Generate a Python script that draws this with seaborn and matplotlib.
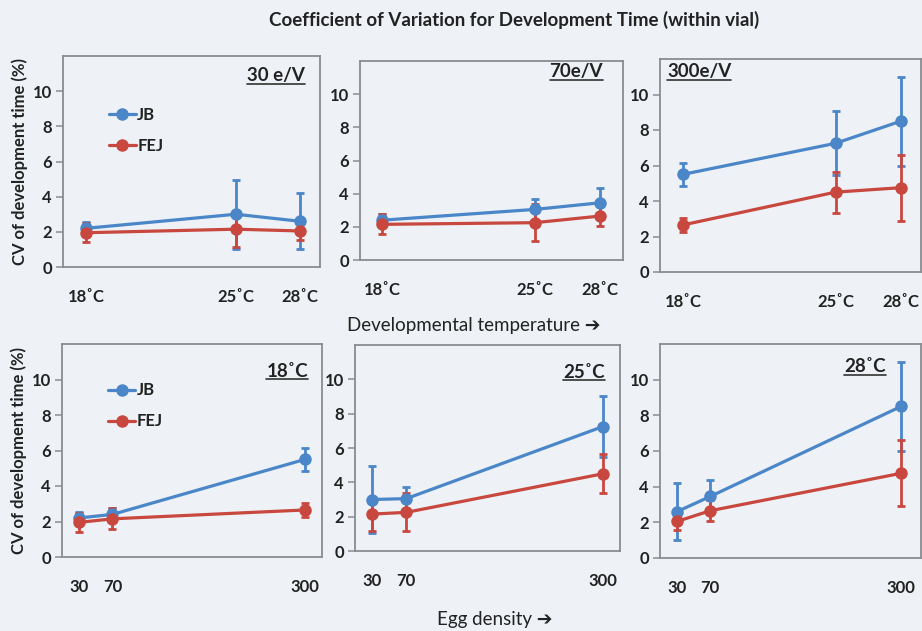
import numpy as np
import pandas as pd
import matplotlib
matplotlib.use("Agg")
import matplotlib.pyplot as plt
from matplotlib.lines import Line2D
import seaborn as sns

# ---- data: CV of development time (%) within vial, mean and error ----
temperatures = [18, 25, 28]
temp_labels = ["18˚C", "25˚C", "28˚C"]
densities = [30, 70, 300]
density_labels = ["30", "70", "300"]
strains = ["JB", "FEJ"]

# rows follow temperatures (18, 25, 28)
jb_mean_30 = [2.2, 3.0, 2.6]
jb_err_30 = [0.35, 1.95, 1.6]
jb_mean_70 = [2.4, 3.05, 3.45]
jb_err_70 = [0.35, 0.65, 0.9]
jb_mean_300 = [5.5, 7.25, 8.5]
jb_err_300 = [0.65, 1.8, 2.5]

fej_mean_30 = [1.95, 2.15, 2.05]
fej_err_30 = [0.55, 1.0, 0.5]
fej_mean_70 = [2.15, 2.25, 2.65]
fej_err_70 = [0.6, 1.1, 0.6]
fej_mean_300 = [2.65, 4.5, 4.75]
fej_err_300 = [0.4, 1.15, 1.85]

jb_mean = {30: jb_mean_30, 70: jb_mean_70, 300: jb_mean_300}
jb_err = {30: jb_err_30, 70: jb_err_70, 300: jb_err_300}
fej_mean = {30: fej_mean_30, 70: fej_mean_70, 300: fej_mean_300}
fej_err = {30: fej_err_30, 70: fej_err_70, 300: fej_err_300}

rows = []
for d in densities:
    for i, t in enumerate(temperatures):
        rows.append(dict(density=d, temp=t, strain="JB", cv=jb_mean[d][i], err=jb_err[d][i]))
        rows.append(dict(density=d, temp=t, strain="FEJ", cv=fej_mean[d][i], err=fej_err[d][i]))
df = pd.DataFrame(rows)

# ---- style ----
BG = "#eef2f6"
BLUE = "#4a86c8"
RED = "#c8473e"
palette = {"JB": BLUE, "FEJ": RED}
FRAME = "#8a8d90"
INK = "#222222"

sns.set_theme(style="white")
plt.rcParams["font.family"] = ["Lato", "DejaVu Sans"]
plt.rcParams["axes.facecolor"] = BG
plt.rcParams["figure.facecolor"] = BG

fig = plt.figure(figsize=(9.22, 6.31), dpi=100)

W, H = 922.0, 631.0


def px_axes(left, top, right, bottom):
    return fig.add_axes([left / W, 1 - bottom / H, (right - left) / W, (bottom - top) / H])


top_boxes = [(63, 56, 320, 267), (360, 61, 623, 260), (660, 59, 921, 272)]
bot_boxes = [(62, 344, 322, 557), (355, 345, 620, 551), (660, 344, 921, 558)]
top_xlims = [(16.93, 28.93), (16.99, 29.05), (16.95, 28.92)]
bot_xlims = [(9.7, 320.3), (10.1, 319.9), (9.5, 324.0)]

top_titles = ["30 e/V", "70e/V", "300e/V"]
top_title_pos = [(305, 76, "right"), (603, 72, "right"), (667, 72, "left")]
bot_titles = ["18˚C", "25˚C", "28˚C"]
bot_title_pos = [(308, 371, "right"), (605, 372, "right"), (886, 367, "right")]


def style_axes(ax, xlim, xticks, xlabels):
    ax.set_xlim(*xlim)
    ax.set_ylim(0, 12)
    ax.set_yticks([0, 2, 4, 6, 8, 10])
    ax.set_xticks(xticks)
    ax.set_xticklabels(xlabels)
    for s in ax.spines.values():
        s.set_color(FRAME)
        s.set_linewidth(1.3)
    ax.tick_params(axis="y", direction="out", length=5, width=1.1, color=FRAME,
                   labelsize=12, pad=3, left=True)
    ax.tick_params(axis="x", length=0, labelsize=12, pad=16)
    for lab in ax.get_xticklabels() + ax.get_yticklabels():
        lab.set_fontweight("bold")
        lab.set_color(INK)
    ax.set_xlabel("")
    ax.set_ylabel("")


def draw_series(ax, sub, xcol):
    for strain in strains:
        s = sub[sub.strain == strain].sort_values(xcol)
        ax.errorbar(s[xcol], s["cv"], yerr=s["err"], fmt="none",
                    ecolor=palette[strain], elinewidth=2.0, capsize=3.2,
                    capthick=2.0, zorder=2)
    sns.lineplot(data=sub, x=xcol, y="cv", hue="strain", hue_order=strains,
                 palette=palette, marker="o", markersize=9, markeredgewidth=0,
                 linewidth=2.3, legend=False, ax=ax, zorder=3)


title_texts = []

# top row: CV against temperature, one panel per egg density
for k, d in enumerate(densities):
    ax = px_axes(*top_boxes[k])
    draw_series(ax, df[df.density == d], "temp")
    style_axes(ax, top_xlims[k], temperatures, temp_labels)
    x, y, ha = top_title_pos[k]
    t = fig.text(x / W, 1 - y / H, top_titles[k], ha=ha, va="center",
                 fontsize=13.5, fontweight="bold", color=INK)
    title_texts.append(t)
    if k == 0:
        ax.set_ylabel("CV of development time (%)", fontsize=12, fontweight="bold",
                      color=INK, labelpad=3)

# bottom row: CV against egg density, one panel per temperature
for k, t_val in enumerate(temperatures):
    ax = px_axes(*bot_boxes[k])
    draw_series(ax, df[df.temp == t_val], "density")
    style_axes(ax, bot_xlims[k], densities, density_labels)
    x, y, ha = bot_title_pos[k]
    t = fig.text(x / W, 1 - y / H, bot_titles[k], ha=ha, va="center",
                 fontsize=13.5, fontweight="bold", color=INK)
    title_texts.append(t)
    if k == 0:
        ax.set_ylabel("CV of development time (%)", fontsize=12, fontweight="bold",
                      color=INK, labelpad=3)

# strain legends in the left-hand panels
handles = [Line2D([], [], color=palette[s], marker="o", markersize=9,
                  markeredgewidth=0, linewidth=2.3, label=s) for s in strains]
for ax, anchor in [(fig.axes[0], (0.12, 0.83)), (fig.axes[3], (0.12, 0.89))]:
    leg = ax.legend(handles=handles, loc="upper left", bbox_to_anchor=anchor,
                    frameon=False, handlelength=1.6, handletextpad=0.1,
                    labelspacing=0.9, prop=dict(weight="bold", size=12))
    for txt in leg.get_texts():
        txt.set_color(INK)

fig.text(514 / W, 1 - 20 / H, "Coefficient of Variation for Development Time (within vial)",
         ha="center", va="center", fontsize=13.5, fontweight="bold", color=INK)
fig.text(474 / W, 1 - 325 / H, "Developmental temperature ➔", ha="center", va="center",
         fontsize=13.5, color=INK)
fig.text(495 / W, 1 - 619 / H, "Egg density ➔", ha="center", va="center",
         fontsize=13.5, color=INK)

# underline the panel headings
fig.canvas.draw()
renderer = fig.canvas.get_renderer()
inv = fig.transFigure.inverted()
for t in title_texts:
    bb = t.get_window_extent(renderer)
    (x0, y0), (x1, _) = inv.transform([(bb.x0, bb.y0 + 1), (bb.x1, bb.y0 + 1)])
    fig.add_artist(Line2D([x0, x1], [y0, y0], transform=fig.transFigure,
                          color="#333333", linewidth=1.2))

fig.savefig("out.png", dpi=100, facecolor=BG)
